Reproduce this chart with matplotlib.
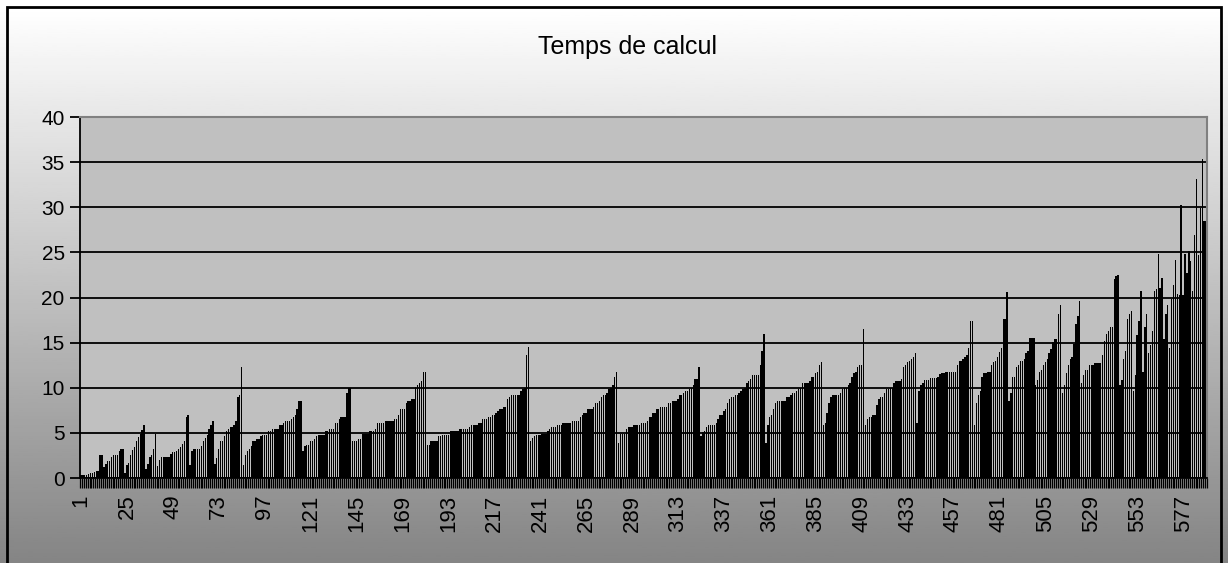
import numpy as np
import matplotlib
matplotlib.use('Agg')
import matplotlib.pyplot as plt
from matplotlib.patches import Rectangle

# temps de calcul (s) pour chaque cas, dans l'ordre des essais
temps = [
    0.3, 0.3, 0.3, 0.3, 0.4, 0.5, 0.5, 0.7, 0.8, 0.8,
    2.5, 2.5, 1.2, 1.5, 1.9, 1.9, 2.3, 2.5,
    2.5, 2.5, 3.0, 3.2, 3.2,
    0.5, 1.4, 1.7, 2.5, 3.1, 3.4, 4.1, 4.5, 4.9, 5.3, 5.9,
    1.0, 1.6, 2.3, 2.5, 3.2, 4.9,
    1.3, 2.0, 2.3, 2.3, 2.3, 2.3, 2.3,
    2.7, 2.9, 2.9, 3.0, 3.2, 3.4, 3.8, 4.1,
    6.8, 7.0,
    1.4, 3.0, 3.2, 3.2, 3.2,
    3.2, 3.5, 4.1, 4.4, 4.8, 5.4, 5.9, 6.3,
    1.6, 2.2, 3.2, 4.1, 4.1, 4.6, 5.2, 5.4, 5.7, 5.7, 5.9, 6.3, 9.0, 9.2, 12.3,
    1.4, 2.5, 3.0, 3.2, 3.5, 4.1, 4.1, 4.3, 4.3, 4.6, 4.8, 4.8, 4.8, 5.2, 5.2,
    5.4, 5.4, 5.4, 5.4, 5.9, 5.9, 6.1, 6.3, 6.3, 6.3, 6.5, 6.8, 7.0, 7.6, 8.5, 8.5,
    3.0, 3.5, 3.7, 3.7, 4.1, 4.1, 4.3,
    4.6, 4.8, 4.8, 4.8, 4.8, 5.2, 5.2, 5.4, 5.4, 5.4, 6.1, 6.1, 6.5, 6.8, 6.8, 6.8,
    9.4, 10.0, 10.0,
    4.1, 4.1, 4.1, 4.3, 4.3, 4.9, 4.9, 4.9, 4.9, 5.2, 5.2, 5.2, 5.4, 6.1, 6.1, 6.1,
    6.1, 6.3, 6.3, 6.3, 6.3, 6.3, 6.5, 6.5, 7.0, 7.6, 7.6, 7.6, 8.3, 8.5, 8.5, 8.7,
    8.7, 10.1, 10.3, 10.5, 10.7, 11.8, 11.8,
    3.7, 3.7, 4.1,
    4.1, 4.1, 4.1, 4.6, 4.6, 4.8, 4.8, 4.8, 4.8, 5.2, 5.2, 5.2, 5.2, 5.2, 5.4, 5.4,
    5.4, 5.4, 5.4, 5.7, 5.9, 5.9, 5.9, 5.9, 6.1, 6.1, 6.5, 6.5, 6.5, 6.8, 6.8, 7.0,
    7.0, 7.2, 7.4, 7.6, 7.6, 7.9, 7.9, 8.7, 9.0, 9.2, 9.2, 9.2, 9.2, 9.2, 9.6, 9.9,
    10.0, 13.6, 14.5,
    4.1, 4.4, 4.6, 4.8, 4.8, 4.8, 4.9, 4.9, 4.9, 5.2,
    5.4, 5.7, 5.7, 5.7, 5.9, 5.9, 5.9, 6.1, 6.1, 6.1, 6.1, 6.1, 6.3, 6.3, 6.3, 6.3,
    6.8, 7.0, 7.2, 7.2, 7.6, 7.6, 7.6, 7.9, 8.3, 8.3, 8.5, 9.0, 9.2, 9.2, 9.4, 9.9,
    10.0, 10.3, 11.2, 11.8,
    3.9, 4.9, 4.9, 4.9, 5.4, 5.7, 5.7, 5.7, 5.9, 5.9, 5.9, 5.9, 6.1, 6.1, 6.1, 6.3,
    6.8, 6.8, 7.2, 7.2, 7.6, 7.6, 7.9, 7.9, 7.9,
    7.9, 8.3, 8.3, 8.5, 8.5, 8.5, 8.7, 9.2, 9.2, 9.4, 9.6, 9.6, 9.9, 10.0, 10.3,
    11.0, 11.0, 12.3,
    4.6, 5.1, 5.2, 5.7, 5.9, 5.9, 5.9, 5.9, 6.1, 6.5, 7.0, 7.0, 7.4, 7.6, 8.3, 8.7,
    9.0, 9.0, 9.2, 9.2, 9.4, 9.6, 9.9, 10.0, 10.5, 10.7, 11.0, 11.4, 11.4, 11.4,
    11.4, 12.5, 14.1, 16.0,
    3.9, 5.9, 6.8, 7.0, 7.6, 8.3, 8.5, 8.5, 8.5,
    8.5, 8.5, 9.0, 9.0, 9.2, 9.4, 9.4, 9.6, 9.9, 10.0, 10.5, 10.5, 10.5, 10.5, 10.7,
    11.2, 11.2, 11.6, 11.8, 12.5, 12.9,
    5.9, 6.1, 7.2, 8.3, 9.0, 9.2, 9.2, 9.2, 9.2, 9.4, 9.9, 10.0, 10.0, 10.3, 10.5,
    11.2, 11.6, 11.8, 12.3, 12.5, 12.5, 16.5,
    5.9, 6.5, 6.8, 6.8, 7.0, 7.0, 8.1, 8.7, 9.0, 9.0, 9.4, 9.9, 9.9, 10.0, 10.0,
    10.5, 10.7, 10.7,
    10.7, 11.0, 12.3, 12.5, 12.8, 13.0, 13.2, 13.4, 13.8,
    6.1, 9.6, 10.3, 10.5, 10.9, 10.9, 10.9, 11.1, 11.1, 11.1, 11.1, 11.2, 11.5, 11.6,
    11.6, 11.8, 11.8, 11.8, 11.8, 11.8, 11.8, 12.5, 13.0, 13.0, 13.2, 13.4, 13.6,
    14.4, 17.4, 17.4,
    5.9, 8.3, 9.2, 9.6, 11.2, 11.6, 11.6, 11.8, 11.8, 12.5, 12.8, 13.0, 13.4, 14.0,
    14.4, 17.6, 17.6, 20.6,
    8.5, 9.4, 11.2, 11.2,
    12.3, 12.5, 13.0, 13.0, 13.2, 13.8, 14.1, 15.5, 15.5, 15.5,
    10.3, 10.9, 11.8, 12.0, 12.5, 12.9, 13.2, 13.8, 14.3, 15.1, 15.4, 15.4, 18.2, 19.2,
    9.4, 10.3, 11.6, 12.5, 13.2, 13.4, 14.9, 17.1, 18.0, 19.6,
    10.5, 11.4, 12.0, 12.0, 12.5, 12.5, 12.5, 12.7, 12.7, 12.7, 12.7, 13.6, 15.2,
    16.0, 16.3, 16.7, 16.7, 22.0, 22.4, 22.5,
    10.3, 10.9, 13.2, 14.1, 17.6, 18.2, 18.5,
    9.6, 11.4, 15.8, 17.4, 20.7, 11.8, 16.7, 18.2, 13.8, 14.7, 16.3, 20.7, 20.9,
    24.8, 21.1, 22.2, 15.4, 18.2, 19.2, 14.4, 19.8, 21.4, 24.2, 20.4, 20.3, 30.2,
    20.3, 24.8, 22.7, 25.1, 24.0, 20.7, 26.9, 33.1, 24.7, 29.9, 35.3, 28.5, 28.5,
]
cas = np.arange(1, len(temps) + 1)
y_ticks = [0, 5, 10, 15, 20, 25, 30, 35, 40]
x_labels = cas[::24]
titre = 'Temps de calcul'

plt.rcParams['font.family'] = ['Liberation Sans', 'DejaVu Sans']

W, H = 1228, 563
fig = plt.figure(figsize=(W / 100, H / 100), dpi=100)

# fond de la zone de graphique : dégradé blanc -> gris
bg = fig.add_axes([0, 0, 1, 1], zorder=-10)
grad = np.linspace(1.0, 0.52, 256).reshape(-1, 1)
bg.imshow(grad, cmap='gray', vmin=0, vmax=1, aspect='auto',
          extent=[0, 1, 0, 1 - 7 / H])
bg.set_xlim(0, 1)
bg.set_ylim(0, 1)
bg.axis('off')

fig.patches.append(Rectangle((7 / W, -0.1), (1221 - 7) / W, 1.1 - 7 / H,
                             transform=fig.transFigure, fill=False,
                             edgecolor='black', linewidth=2))

ax = fig.add_axes([80 / W, 1 - 478 / H, (1207 - 80) / W, (478 - 117) / H])
ax.set_facecolor('#C0C0C0')
ax.bar(cas, temps, width=0.72, color='black', linewidth=0,
       antialiased=False, zorder=2)

ax.set_xlim(0.5, len(temps) + 0.5)
ax.set_ylim(0, 40)
ax.set_yticks(y_ticks)
ax.yaxis.grid(True, color='black', linewidth=1.3)
ax.set_axisbelow(True)
ax.tick_params(axis='y', length=7, width=1.3, direction='out',
               labelsize=15, pad=4)

ax.set_xticks(x_labels)
ax.set_xticklabels([str(v) for v in x_labels], rotation=90)
ax.tick_params(axis='x', which='major', length=0, pad=12, labelsize=16)
ax.set_xticks(np.arange(0.5, len(temps) + 1), minor=True)
ax.tick_params(axis='x', which='minor', length=7, width=0.9,
               direction='out', color='black')

ax.spines['left'].set_linewidth(1.3)
ax.spines['bottom'].set_linewidth(1.3)
ax.spines['top'].set_color('#808080')
ax.spines['right'].set_color('#808080')
ax.spines['top'].set_linewidth(1.5)
ax.spines['right'].set_linewidth(1.5)

fig.text(627 / W, 1 - 47 / H, titre, ha='center', va='center', fontsize=18)

fig.savefig('out.png', dpi=100)
